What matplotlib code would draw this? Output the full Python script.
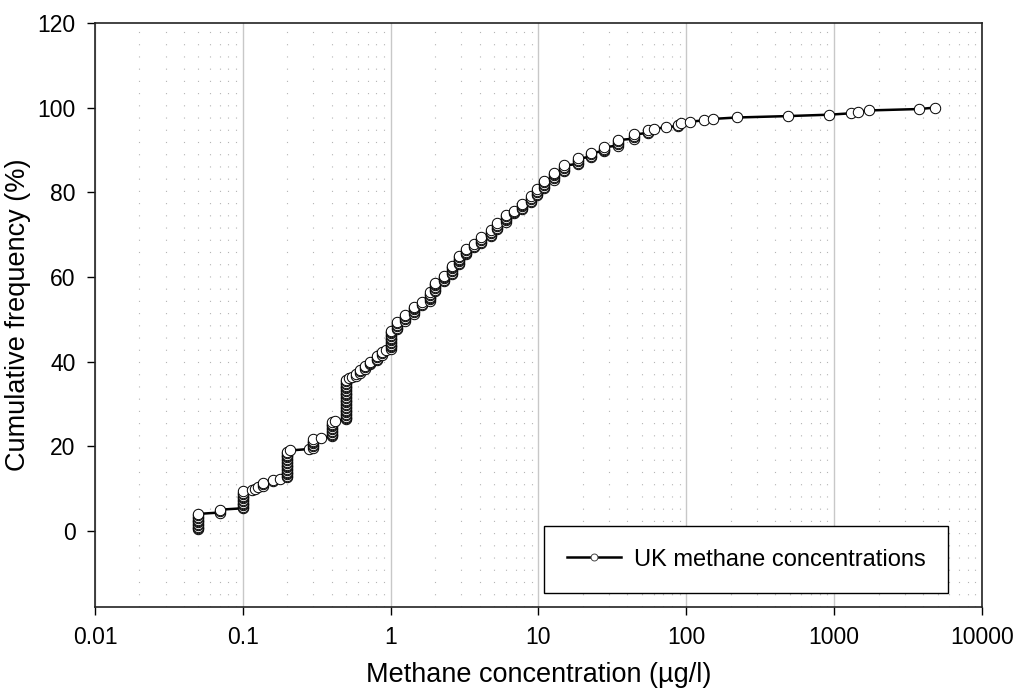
import numpy as np
import matplotlib
matplotlib.use("Agg")
import matplotlib.pyplot as plt
from matplotlib.lines import Line2D

plt.rcParams['font.family'] = ['Liberation Sans', 'DejaVu Sans']

# concentration levels (ug/l) and number of samples at each level
conc_levels = [0.05, 0.07, 0.1, 0.115, 0.121, 0.127, 0.138, 0.16, 0.179,
               0.2, 0.21, 0.28, 0.3, 0.34, 0.4, 0.42, 0.5,
               0.52, 0.55, 0.586, 0.624, 0.675, 0.73, 0.81, 0.876, 0.936, 1.0,
               1.107, 1.259, 1.434, 1.635, 1.86, 2.01, 2.29, 2.61, 2.89, 3.21,
               3.66, 4.06, 4.74, 5.27, 6.0, 6.83, 7.78, 8.85, 9.83, 10.9,
               12.7, 14.9, 18.4, 22.6, 27.8, 34.3, 44.4, 54.7, 60.7, 72.8,
               87.3, 92.0, 106, 132, 151, 220, 485, 929, 1303, 1445, 1708,
               3750, 4786]
n_samples = [12, 3, 13, 1, 1, 1, 3, 2, 1,
             19, 1, 1, 7, 1, 11, 1, 29,
             1, 1, 2, 3, 3, 3, 4, 3, 1, 14,
             6, 5, 6, 3, 7, 7, 5, 7, 7, 5,
             3, 5, 5, 5, 6, 3, 5, 5, 5, 6,
             6, 5, 5, 4, 4, 5, 4, 3, 1, 1,
             2, 1, 1, 1, 1, 1, 1, 1, 1, 1, 1,
             1, 1]

x_ticks = [0.01, 0.1, 1, 10, 100, 1000, 10000]
x_tick_labels = ['0.01', '0.1', '1', '10', '100', '1000', '10000']
y_ticks = [0, 20, 40, 60, 80, 100, 120]

# cumulative frequency of the sorted samples
conc = np.repeat(conc_levels, n_samples)
cum_freq = np.arange(1, len(conc) + 1) / len(conc) * 100

fig = plt.figure(figsize=(10.19, 6.88), dpi=100)
ax = fig.add_axes([0.0932, 0.1177, 0.8705, 0.8489])

ax.set_xscale('log')
ax.set_xlim(0.01, 10000)
ax.set_ylim(-18, 120)

# grid: solid at decades, dotted at minor positions
ax.grid(True, which='major', axis='x', color='#c8c8c8', lw=1.0)
ax.grid(True, which='minor', axis='x', color='#b4b4b4', lw=0.8, linestyle=(0, (1, 10)))
ax.set_axisbelow(True)

ax.plot(conc, cum_freq, color='black', lw=1.8, marker='o', markersize=7.5,
        markerfacecolor='white', markeredgecolor='black', markeredgewidth=0.7,
        zorder=3)

ax.set_xticks(x_ticks)
ax.set_xticklabels(x_tick_labels)
ax.set_yticks(y_ticks)
ax.tick_params(axis='both', which='major', direction='out', length=6, width=1,
               labelsize=16.5, top=False, right=False)
ax.tick_params(axis='x', which='major', pad=8)
ax.tick_params(axis='y', which='major', pad=8)
ax.tick_params(axis='x', which='minor', length=0)
for s in ax.spines.values():
    s.set_linewidth(1.2)
    s.set_color('#222222')

ax.set_xlabel('Methane concentration (µg/l)', fontsize=19.5)
ax.set_ylabel('Cumulative frequency (%)', fontsize=19.5)
ax.xaxis.set_label_coords(0.5, -0.094)
ax.yaxis.set_label_coords(-0.072, 0.5)

handle = Line2D([], [], color='black', lw=1.8, marker='o', markersize=5,
                markerfacecolor='white', markeredgecolor='#444444', markeredgewidth=0.7)
leg = ax.legend([handle], ['UK methane concentrations'], loc='lower right',
                bbox_to_anchor=(0.962, 0.024), fontsize=17, frameon=True,
                fancybox=False, edgecolor='black', framealpha=1,
                borderpad=0.95, handlelength=2.3, handletextpad=0.55,
                borderaxespad=0)
leg.get_frame().set_linewidth(1.0)

fig.savefig('out.png', dpi=100)
